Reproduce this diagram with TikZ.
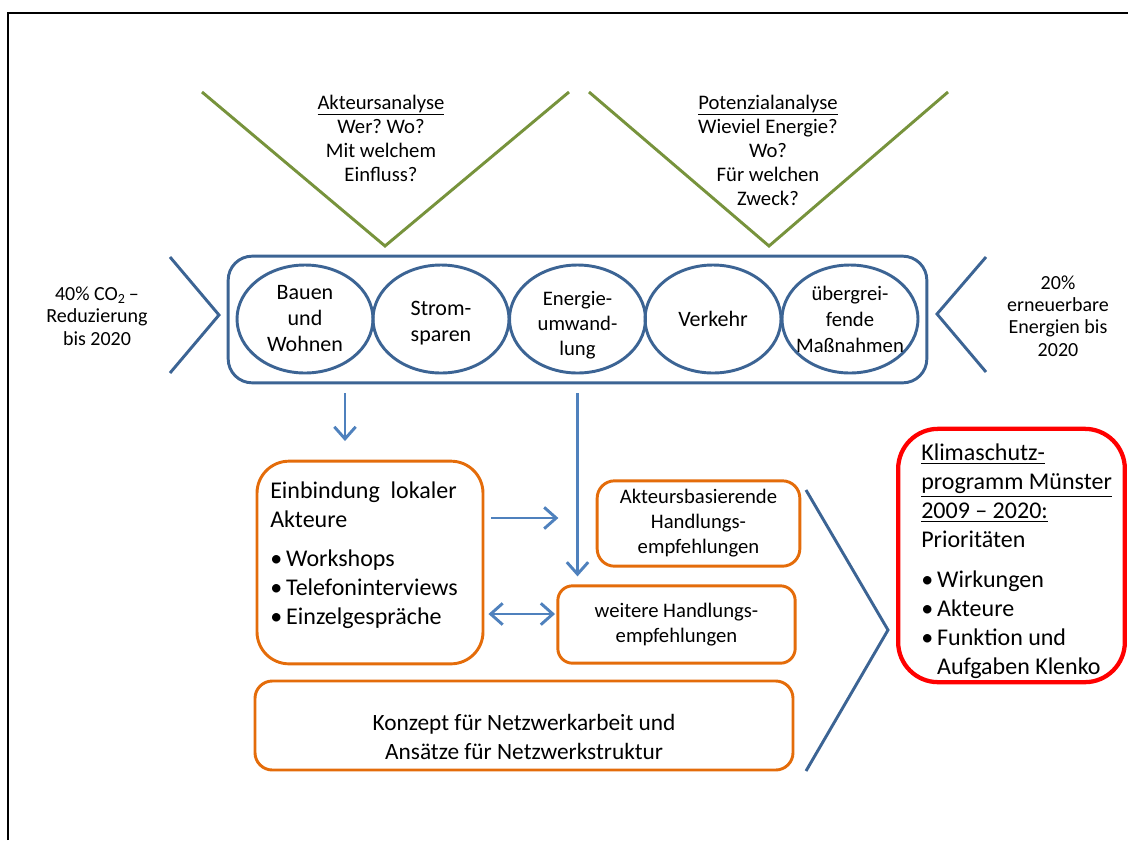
\documentclass[tikz,border=0pt]{standalone}
\usepackage{fontspec}
\setmainfont{Carlito}
\usetikzlibrary{shapes.geometric, arrows.meta}
\frenchspacing

\definecolor{feldblau}{HTML}{3C6494}
\definecolor{pfeilblau}{HTML}{4F81BD}
\definecolor{analysegruen}{HTML}{77933C}
\definecolor{kastenorange}{HTML}{E46C0A}
\definecolor{zielrot}{HTML}{FF0000}

\newcommand{\bul}{\textbullet\,}

\tikzset{
  analyse/.style={draw=analysegruen, line width=2.2pt},
  analysetext/.style={align=center, font=\fontsize{15.5}{18}\selectfont},
  chevron/.style={draw=feldblau, line width=2.2pt},
  zieltext/.style={align=center, font=\fontsize{15}{16.8}\selectfont},
  feld/.style={ellipse, draw=feldblau, line width=2.2pt, minimum width=102pt, minimum height=81pt, inner sep=0pt},
  feldtext/.style={align=center, font=\fontsize{#1}{19.5}\selectfont},
  kasten/.style={draw=kastenorange, line width=2.2pt, rounded corners=#1, inner sep=0pt},
  kastentext/.style={align=center, font=\fontsize{15.5}{18.8}\selectfont},
  listentext/.style={align=left, inner sep=0pt, font=\fontsize{18}{21.7}\selectfont},
  pfeil/.style={draw=pfeilblau, line width=2.2pt, -{Straight Barb[length=9pt, width=16pt]}},
  doppelpfeil/.style={draw=pfeilblau, line width=2.2pt, {Straight Barb[length=9pt, width=16pt]}-{Straight Barb[length=9pt, width=16pt]}}
}

\begin{document}
\begin{tikzpicture}[x=0.75pt, y=-0.75pt]
  \useasboundingbox (0,0) rectangle (1128,840);

  % Rahmen
  \draw[line width=2.2pt] (8,840) -- (8,13) -- (1128,13);

  % Analysen oben
  \draw[analyse] (202,92) -- (385,246) -- (569,92);
  \draw[analyse] (589,92) -- (769,246) -- (948,92);
  \node[analysetext] (akteursanalyse) at (381,138) {\underline{Akteursanalyse}\\Wer? Wo?\\Mit welchem\\Einfluss?};
  \node[analysetext] (potenzialanalyse) at (768,150) {\underline{Potenzialanalyse}\\Wieviel Energie?\\Wo?\\Für welchen\\Zweck?};

  % Handlungsfelder
  \node[draw=feldblau, line width=2.2pt, rounded corners=18pt, minimum width=524pt, minimum height=95pt] (felder) at (577.5,319.5) {};
  \node[feld, label={[feldtext=16.5]center:Bauen\\und\\Wohnen}] (bauen) at (305,319) {};
  \node[feld, label={[feldtext=16.5, yshift=-3pt]center:Strom-\\sparen}] (strom) at (441,319) {};
  \node[feld, label={[feldtext=15.5, font=\fontsize{15.5}{18.5}\selectfont, yshift=-4.5pt]center:Energie-\\umwand-\\lung}] (umwandlung) at (577.5,319) {};
  \node[feld, label={[feldtext=16.5]center:Verkehr}] (verkehr) at (713,319) {};
  \node[feld, label={[feldtext=15.5]center:übergrei-\\fende\\Maßnahmen}] (uebergreifend) at (850,319) {};

  % Ziele links und rechts
  \draw[chevron] (170,257) -- (219,315) -- (170,373);
  \draw[chevron] (986,257) -- (937,314) -- (986,372);
  \node[zieltext] (co2ziel) at (97,316) {40\% CO\textsubscript{2}\,–\\Reduzierung\\bis 2020};
  \node[zieltext] (eeziel) at (1058,316) {20\%\\erneuerbare\\Energien bis\\2020};

  % Beteiligung und Empfehlungen
  \node[kasten=24pt, minimum width=169.5pt, minimum height=152pt] (einbindung) at (370,562.5) {};
  \node[listentext, anchor=north west] (einbindungtext) at (270,482) {Einbindung\hspace{0.45em}lokaler\\Akteure\\[7pt]\bul Workshops\\\bul Telefoninterviews\\\bul Einzelgespräche};
  \node[kasten=13pt, kastentext, minimum width=152pt, minimum height=64pt] (akteurempf) at (698.5,523.5) {Akteursbasierende\\Handlungs-\\empfehlungen};
  \node[kasten=11pt, kastentext, minimum width=178pt, minimum height=58pt] (weitereempf) at (676.5,624.5) {weitere Handlungs-\\empfehlungen};
  \node[kasten=13pt, minimum width=403.5pt, minimum height=66.75pt] (konzept) at (524,725.5) {};
  \node[kastentext, font=\fontsize{17.5}{21.7}\selectfont] (konzepttext) at (524,737) {Konzept für Netzwerkarbeit und\\Ansätze für Netzwerkstruktur};

  \draw[pfeil, shorten <=6.75pt, shorten >=14pt] (felder.south -| 345,0) -- (einbindung.north -| 345,0);
  \draw[pfeil, shorten <=6.75pt, shorten >=6pt] (felder.south) -- (felder.south |- weitereempf.north);
  \draw[pfeil, shorten <=5pt, shorten >=28pt] (einbindung.east |- 0,518) -- (akteurempf.west |- 0,518);
  \draw[doppelpfeil, shorten <=3pt, shorten >=1pt] (einbindung.east |- 0,614) -- (weitereempf.west |- 0,614);

  % Ergebnis
  \draw[chevron] (806,490) -- (888,630) -- (806,771);
  \node[draw=zielrot, line width=3.2pt, rounded corners=30pt, minimum width=170pt, minimum height=190pt] (klimaschutz) at (1011.5,555.5) {};
  \node[listentext, anchor=north west] (klimaschutztext) at (921,444) {\underline{Klimaschutz-}\\\underline{programm Münster}\\\underline{2009 – 2020:}\\Prioritäten\\[8pt]\bul Wirkungen\\\bul Akteure\\\bul Funktion und\\\hphantom{\bul}Aufgaben Klenko};
\end{tikzpicture}
\end{document}
